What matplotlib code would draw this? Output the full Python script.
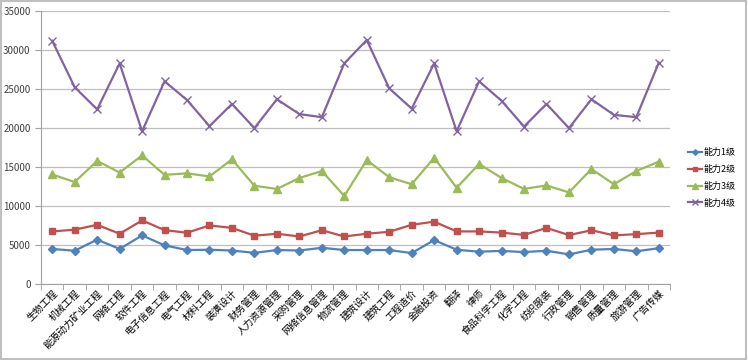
import numpy as np
import matplotlib
matplotlib.use("Agg")
import matplotlib.pyplot as plt
from matplotlib.patches import Rectangle

plt.rcParams['font.family'] = ['Noto Sans CJK SC', 'DejaVu Sans']

majors = ["生物工程", "机械工程", "能源动力矿业工程", "网络工程", "软件工程", "电子信息工程",
          "电气工程", "材料工程", "装潢设计", "财务管理", "人力资源管理", "采购管理",
          "网络信息管理", "物流管理", "建筑设计", "建筑工程", "工程造价", "金融投资",
          "翻译", "律师", "食品科学工程", "化学工程", "纺织服装", "行政管理",
          "销售管理", "质量管理", "旅游管理", "广告传媒"]

level1 = [4500, 4270, 5700, 4500, 6240, 4960, 4360, 4400, 4300, 4000, 4360, 4300, 4650, 4360,
          4360, 4360, 3970, 5640, 4400, 4150, 4250, 4100, 4270, 3800, 4400, 4500, 4200, 4600]
level2 = [6750, 6970, 7600, 6450, 8160, 6920, 6580, 7520, 7200, 6200, 6450, 6100, 6900, 6100,
          6450, 6700, 7600, 8000, 6750, 6750, 6600, 6300, 7200, 6280, 6900, 6240, 6400, 6600]
level3 = [14060, 13080, 15800, 14300, 16500, 14000, 14200, 13800, 16000, 12600, 12200, 13600, 14500, 11300,
          15900, 13700, 12800, 16200, 12350, 15400, 13600, 12200, 12650, 11750, 14750, 12800, 14500, 15700]
level4 = [31200, 25250, 22400, 28300, 19600, 26000, 23600, 20250, 23100, 20000, 23700, 21800, 21400, 28300,
          31300, 25100, 22500, 28300, 19600, 26000, 23500, 20200, 23100, 20000, 23700, 21700, 21400, 28400]

series = [
    ("能力1级", level1, "#4F81BD", "D", 4),
    ("能力2级", level2, "#C0504D", "s", 5),
    ("能力3级", level3, "#9BBB59", "^", 6),
    ("能力4级", level4, "#8064A2", "x", 6),
]

fig = plt.figure(figsize=(7.48, 3.60), dpi=100)
ax = fig.add_axes([0.0548, 0.211, 0.841, 0.758])

x = np.arange(len(majors))
for name, vals, color, mk, ms in series:
    ax.plot(x, vals, color=color, linewidth=1.6, marker=mk, markersize=ms,
            markeredgewidth=1.0, label=name)

ax.set_xlim(-0.5, len(majors) - 0.5)
ax.set_ylim(0, 35000)
ax.set_yticks(np.arange(0, 35001, 5000))
ax.yaxis.grid(True, color="#BFBFBF", linewidth=0.9)
ax.set_axisbelow(True)

ax.set_xticks(x)
ax.set_xticklabels(majors, rotation=45, ha="right", rotation_mode="anchor", fontsize=7)
ax.tick_params(axis="x", length=0, pad=3)
ax.set_xticks(np.arange(-0.5, len(majors), 1), minor=True)
ax.tick_params(axis="x", which="minor", length=4, color="#A0A0A0", direction="out")
ax.tick_params(axis="y", labelsize=7, colors="#404040", length=4, direction="out")
ax.tick_params(axis="y", color="#A0A0A0")

for side in ["top", "right"]:
    ax.spines[side].set_visible(False)
ax.spines["left"].set_color("#A0A0A0")
ax.spines["bottom"].set_color("#A0A0A0")

fig.legend(loc="upper left", bbox_to_anchor=(688 / 748, 1 - 148 / 360), frameon=False, fontsize=6.5,
           handlelength=1.5, handletextpad=0.2, labelspacing=0.85, markerscale=0.7,
           borderpad=0, borderaxespad=0)

fig.patches.append(Rectangle((0.002, 0.003), 0.995, 0.993, transform=fig.transFigure,
                             fill=False, edgecolor="#BFBFBF", linewidth=1.5))

fig.savefig("out.png", dpi=100)
